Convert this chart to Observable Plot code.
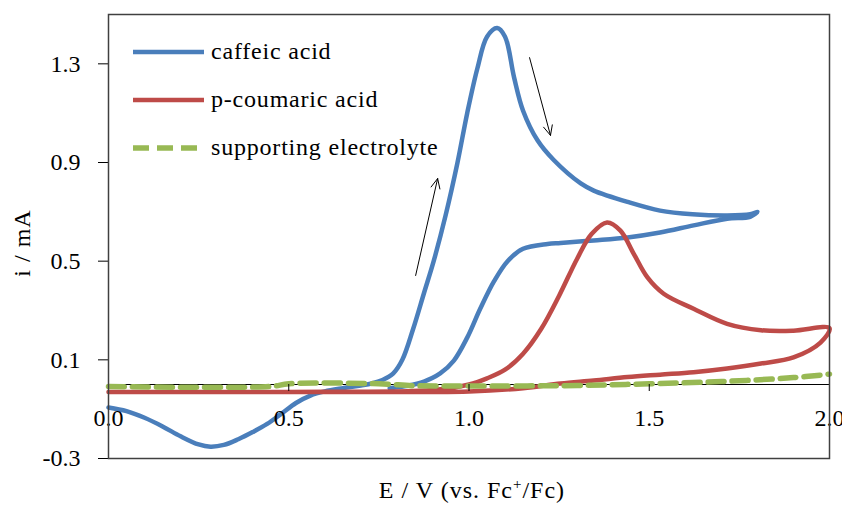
<!DOCTYPE html>
<html>
<head>
<meta charset="utf-8">
<script src="https://cdn.jsdelivr.net/npm/d3@7"></script>
<script src="https://cdn.jsdelivr.net/npm/@observablehq/plot@0.6"></script>
<style>
html, body { margin: 0; padding: 0; background: #fff; }
#chart { width: 842px; height: 506px; }
</style>
</head>
<body>
<div id="chart"></div>
<script>
// ---- data (E in V vs Fc+/Fc, i in mA) ----
const E_caffeic = [0.00, 0.05, 0.10, 0.15, 0.20, 0.25, 0.283, 0.32, 0.36, 0.40, 0.44, 0.48, 0.52, 0.56, 0.60, 0.65, 0.70, 0.73, 0.76, 0.79, 0.815, 0.845, 0.875, 0.902, 0.935, 0.968, 0.995, 1.023, 1.05, 1.078, 1.10, 1.125, 1.15, 1.19, 1.235, 1.31, 1.346, 1.44, 1.53, 1.62, 1.716, 1.78, 1.80,
                   1.78, 1.716, 1.623, 1.53, 1.44, 1.346, 1.254, 1.218, 1.15, 1.107, 1.07, 1.032, 0.995, 0.958, 0.92, 0.875, 0.83, 0.78];
const i_caffeic = [-0.093, -0.108, -0.135, -0.170, -0.210, -0.243, -0.252, -0.245, -0.222, -0.193, -0.160, -0.118, -0.075, -0.045, -0.028, -0.015, -0.004, 0.004, 0.018, 0.045, 0.10, 0.225, 0.37, 0.50, 0.685, 0.899, 1.10, 1.28, 1.41, 1.445, 1.41, 1.245, 1.11, 0.99, 0.91, 0.815, 0.786, 0.74, 0.705, 0.69, 0.685, 0.69, 0.70,
                   0.68, 0.672, 0.645, 0.616, 0.596, 0.584, 0.574, 0.57, 0.55, 0.50, 0.42, 0.31, 0.19, 0.097, 0.045, 0.012, -0.005, -0.015];

const E_coumaric = [0.00, 0.50, 0.90, 1.00, 1.05, 1.10, 1.15, 1.20, 1.25, 1.30, 1.34, 1.383, 1.42, 1.457, 1.495, 1.54, 1.623, 1.716, 1.81, 1.90, 2.00,
                    1.975, 1.90, 1.81, 1.716, 1.623, 1.53, 1.44, 1.346, 1.254, 1.15, 1.00, 0.50, 0.00];
const i_coumaric = [-0.03, -0.03, -0.022, 0.0, 0.025, 0.06, 0.125, 0.225, 0.36, 0.51, 0.61, 0.657, 0.624, 0.53, 0.434, 0.368, 0.307, 0.246, 0.22, 0.218, 0.228,
                    0.17, 0.11, 0.085, 0.065, 0.05, 0.04, 0.03, 0.016, 0.004, -0.015, -0.028, -0.03, -0.03];

const E_electrolyte = [0.00, 0.45, 0.50, 0.75, 0.85, 1.00, 1.30, 1.50, 1.70, 1.90, 2.00];
const i_electrolyte = [-0.008, -0.008, 0.003, 0.003, -0.005, -0.006, -0.004, 0.003, 0.012, 0.028, 0.042];

const seriesNames = ["caffeic acid", "p-coumaric acid", "supporting electrolyte"];
const seriesColors = ["#4A7EBB", "#BE4B48", "#98B954"];

// scan-direction arrows (data coordinates)
const arrowE1 = [0.852, 1.168];
const arrowI1 = [0.442, 1.325];
const arrowE2 = [0.913, 1.226];
const arrowI2 = [0.835, 1.010];

const xTicks = [0, 0.5, 1.0, 1.5, 2.0];
const yTicks = [-0.3, 0.1, 0.5, 0.9, 1.3];
const xDomain = [0, 2];
const yDomain = [-0.3, 1.5];

// ---- build tables ----
const toRows = (xs, ys) => xs.map((x, k) => ({x, y: ys[k]}));
const caffeic = toRows(E_caffeic, i_caffeic);
const coumaric = toRows(E_coumaric, i_coumaric);
const electrolyte = toRows(E_electrolyte, i_electrolyte);
const arrows = arrowE1.map((x1, k) => ({x1, y1: arrowI1[k], x2: arrowE2[k], y2: arrowI2[k]}));

const W = 842, H = 506;
const mTop = 14, mBottom = 48, mLeft = 108, mRight = 13;
// shift the bottom axis up so it sits on i = 0
const axisShift = -((0 - yDomain[0]) / (yDomain[1] - yDomain[0])) * (H - mTop - mBottom);
const fmt = d => d.toFixed(1);

const chart = Plot.plot({
  width: W, height: H,
  marginTop: mTop, marginBottom: mBottom, marginLeft: mLeft, marginRight: mRight,
  x: {domain: xDomain},
  y: {domain: yDomain},
  style: {fontFamily: '"Liberation Serif", "Times New Roman", serif', fontSize: "24px", background: "#fff", color: "#000", overflow: "visible"},
  marks: [
    Plot.ruleY([0], {stroke: "#000", strokeWidth: 1}),
    Plot.line(caffeic, {x: "x", y: "y", stroke: seriesColors[0], strokeWidth: 4.5, curve: "catmull-rom"}),
    Plot.line(coumaric, {x: "x", y: "y", stroke: seriesColors[1], strokeWidth: 4.5, curve: "catmull-rom"}),
    Plot.line(electrolyte, {x: "x", y: "y", stroke: seriesColors[2], strokeWidth: 5.5, strokeDasharray: "16,8", curve: "catmull-rom"}),
    Plot.arrow(arrows, {x1: "x1", y1: "y1", x2: "x2", y2: "y2", stroke: "#000", strokeWidth: 1, headLength: 16, headAngle: 50, bend: 0}),
    Plot.axisY(yTicks, {tickSize: 10, tickPadding: 18, tickFormat: fmt, label: null, stroke: "#000"}),
    Plot.axisX(xTicks, {anchor: "bottom", dy: axisShift, tickSize: 7, tickPadding: 17, tickFormat: fmt, label: null, stroke: "#000"}),
    Plot.frame({stroke: "#404040", strokeWidth: 1.5})
  ]
});

document.getElementById("chart").appendChild(chart);

// ---- legend and axis titles ----
const svg = d3.select(chart);
const leg = svg.append("g").attr("text-anchor", "start");
seriesNames.forEach((name, k) => {
  const cy = 52 + 48 * k;
  const ln = leg.append("line")
    .attr("x1", 133).attr("x2", k === 2 ? 197 : 204)
    .attr("y1", cy).attr("y2", cy)
    .attr("stroke", seriesColors[k])
    .attr("stroke-width", k === 2 ? 5.5 : 4.5);
  if (k === 2) ln.attr("stroke-dasharray", "16,8");
  leg.append("text")
    .attr("x", 211).attr("y", cy + 7)
    .attr("text-anchor", "start")
    .attr("font-size", 24)
    .attr("letter-spacing", "0.8px")
    .attr("fill", "#000")
    .text(name);
});

const xt = svg.append("text")
  .attr("x", 472).attr("y", 498)
  .attr("text-anchor", "middle")
  .attr("font-size", 24)
  .attr("letter-spacing", "1px")
  .attr("fill", "#000");
xt.append("tspan").text("E / V (vs. Fc");
xt.append("tspan").attr("font-size", 15).attr("dy", -9).text("+");
xt.append("tspan").attr("dy", 9).text("/Fc)");

svg.append("text")
  .attr("transform", "translate(30,243) rotate(-90)")
  .attr("text-anchor", "middle")
  .attr("font-size", 24)
  .attr("letter-spacing", "1px")
  .attr("fill", "#000")
  .text("i / mA");
</script>
</body>
</html>
